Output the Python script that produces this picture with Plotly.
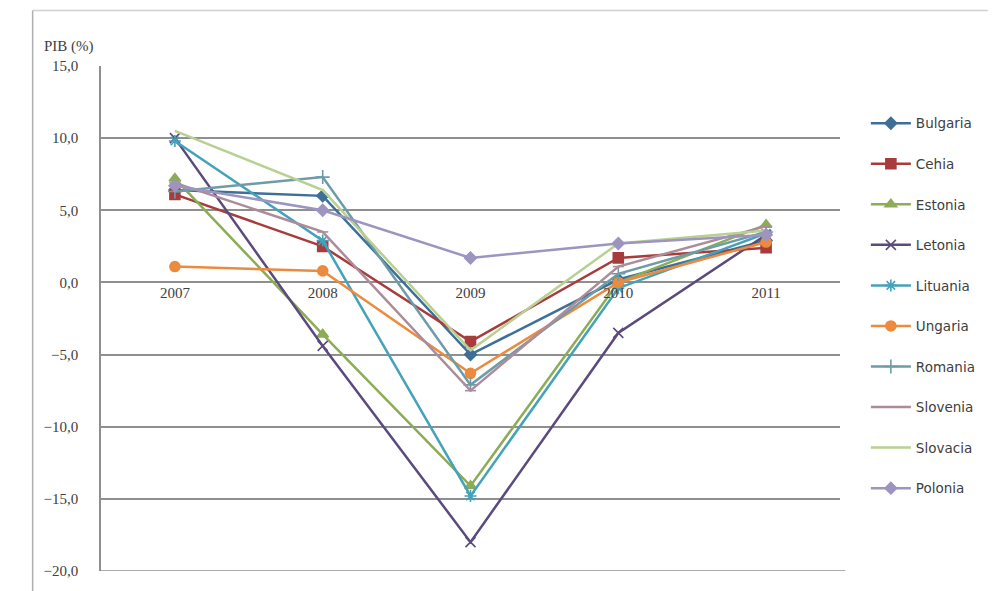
import plotly.graph_objects as go

years = ["2007", "2008", "2009", "2010", "2011"]
countries = ["Bulgaria", "Cehia", "Estonia", "Letonia", "Lituania",
             "Ungaria", "Romania", "Slovenia", "Slovacia", "Polonia"]

bulgaria = [6.4, 6.0, -5.0, 0.2, 2.9]
cehia = [6.1, 2.5, -4.1, 1.7, 2.4]
estonia = [7.2, -3.6, -14.1, 0.0, 4.0]
letonia = [10.0, -4.4, -18.0, -3.5, 3.3]
lituania = [9.8, 2.9, -14.8, -0.4, 3.4]
ungaria = [1.1, 0.8, -6.3, 0.0, 2.8]
romania = [6.3, 7.3, -7.1, 0.6, 3.5]
slovenia = [6.9, 3.5, -7.5, 1.1, 3.9]
slovacia = [10.5, 6.4, -4.7, 2.7, 3.6]
polonia = [6.7, 5.0, 1.7, 2.7, 3.3]

series = [bulgaria, cehia, estonia, letonia, lituania,
          ungaria, romania, slovenia, slovacia, polonia]

colors = ["#3d6f98", "#a83c3c", "#8cac55", "#5b4a7c", "#45a2bb",
          "#ec8a3e", "#6d9ca8", "#ad8c9a", "#b9d092", "#9d95bf"]
markers = ["diamond", "square", "triangle-up", "x-thin-open", "asterisk-open",
           "circle", "cross-thin-open", "line-ew-open", "circle", "diamond"]
msizes = [9, 10, 10, 10, 10, 10, 10, 8, 0, 9]

fig = go.Figure()
for name, vals, c, m, s in zip(countries, series, colors, markers, msizes):
    fig.add_trace(go.Scatter(
        x=years, y=vals, name=name, mode="lines+markers" if s else "lines",
        line=dict(color=c, width=2.5),
        marker=dict(symbol=m, size=s, color=c, line=dict(color=c, width=1.6)),
        legendgroup=name,
    ))

fig.update_layout(
    width=998, height=591,
    margin=dict(l=101, r=158, t=66, b=16),
    paper_bgcolor="white", plot_bgcolor="white",
    separators=", ",
    showlegend=True,
    legend=dict(x=1.035, y=0.917, xanchor="left", yanchor="top",
                font=dict(family="DejaVu Sans", size=13.5, color="#404040"),
                tracegroupgap=20, itemwidth=40, bgcolor="rgba(0,0,0,0)"),
    xaxis=dict(type="category", range=[-0.5, 4.5], anchor="free", position=20/35,
               showgrid=False, showline=False, zeroline=False, ticks="",
               tickfont=dict(family="Liberation Serif", size=15, color="#404040")),
    yaxis=dict(range=[-20, 15], dtick=5, tickformat=".1f", showgrid=True,
               gridcolor="#8f8f8f", gridwidth=1.5, zeroline=False,
               showline=True, linecolor="#8f8f8f", linewidth=1.5,
               ticklabelstandoff=18,
               tickfont=dict(family="Liberation Serif", size=15, color="#404040")),
    annotations=[dict(text="PIB (%)", xref="paper", yref="paper", x=-0.043, y=1.018,
                      xanchor="center", yanchor="bottom", showarrow=False,
                      font=dict(family="Liberation Serif", size=15, color="#404040"))],
    shapes=[dict(type="line", xref="paper", yref="paper", x0=-0.0925, x1=1.2, y0=1.11, y1=1.11,
                 line=dict(color="#d0d0d0", width=1.5)),
            dict(type="line", xref="paper", yref="paper", x0=-0.0925, x1=-0.0925, y0=1.11, y1=-0.05,
                 line=dict(color="#b0b0b0", width=1.5)),
            dict(type="line", xref="paper", yref="y", x0=0, x1=1.007, y0=-20, y1=-20,
                 line=dict(color="#8f8f8f", width=1.5))],
)

fig.write_html("out.html")
